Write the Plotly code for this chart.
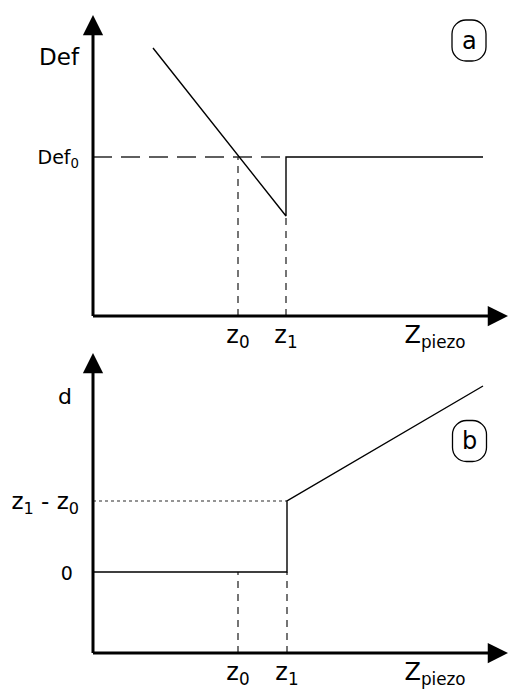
import plotly.graph_objects as go

# ── Panel (a): deflection vs piezo position ──────────────────────────────────
z0_a = 1.45
z1_a = 1.93
def0 = 1.59
def_x = [0.60, 1.93, 1.93, 3.90]
def_y = [2.68, 1.00, 1.59, 1.59]
def_label_y = 2.58

# ── Panel (b): indentation vs piezo position ─────────────────────────────────
z0_b = 1.45
z1_b = 1.94
d_zero = 0.81
d_step = 1.52
d_x = [0.00, 1.94, 1.94, 3.90]
d_y = [0.81, 0.81, 1.52, 2.67]
d_label_y = 2.57

zpiezo_x = 3.42
x_end = 4.15
ya_end = 3.01
yb_end = 3.00

NB = "\u00a0"
x_ticktext = ["z<sub>0</sub>", "z<sub>1</sub>",
              "Z<sub>piezo</sub>"]
ya_ticktext = ["Def<sub>0</sub>", "<span style='font-size:23px'>Def</span>"]
yb_ticktext = [f"<span style='font-size:19px'>0{NB}</span>",
               "z<sub>1</sub> - z<sub>0</sub>",
               f"<span style='font-size:22px'>d{NB}</span>"]

FONT = "DejaVu Sans, Verdana, sans-serif"
INK = "#000000"
DASH = "#2b2b2b"

fig = go.Figure()


def seg(x, y, xa, ya, color=INK, width=1.4, dash="solid"):
    fig.add_trace(go.Scatter(
        x=x, y=y, xaxis=xa, yaxis=ya, mode="lines",
        line=dict(color=color, width=width, dash=dash),
        hoverinfo="skip", showlegend=False,
    ))


# panel a
seg([0, def_x[2]], [def0, def0], "x", "y", DASH, 1.3, "19px,9px")
seg([z0_a, z0_a], [0, def0], "x", "y", DASH, 1.3, "7px,6px")
seg([z1_a, z1_a], [0, def_y[1]], "x", "y", DASH, 1.3, "7px,6px")
seg(def_x, def_y, "x", "y")

# panel b
seg([0, d_x[2]], [d_step, d_step], "x2", "y2", DASH, 1.2, "3px,3px")
seg([z0_b, z0_b], [0, d_zero], "x2", "y2", DASH, 1.3, "7px,6px")
seg([z1_b, z1_b], [0, d_zero], "x2", "y2", DASH, 1.3, "7px,6px")
seg(d_x, d_y, "x2", "y2")

# axes with arrow heads
annotations = []
for xr, yr, ytop in (("x", "y", ya_end), ("x2", "y2", yb_end)):
    for (tx, ty, ax, ay) in ((x_end, 0, -0.015, 0), (0, ytop, 0, -0.015)):
        annotations.append(dict(
            x=tx, y=ty, ax=ax, ay=ay, xref=xr, yref=yr, axref=xr, ayref=yr,
            text="", showarrow=True, arrowhead=2, arrowsize=1.35,
            arrowwidth=3, arrowcolor=INK,
        ))

# rounded label boxes
shapes = []
for xr, yr, cx, cy, letter in (("x", "y", 3.76, 2.755, "a"),
                               ("x2", "y2", 3.765, 2.12, "b")):
    w, h, r = 0.34, 0.41, 0.14
    k = r * 0.552
    x0, x1, y0, y1 = cx - w / 2, cx + w / 2, cy - h / 2, cy + h / 2
    path = (f"M{x0 + r},{y0} L{x1 - r},{y0} "
            f"C{x1 - r + k},{y0} {x1},{y0 + r - k} {x1},{y0 + r} "
            f"L{x1},{y1 - r} "
            f"C{x1},{y1 - r + k} {x1 - r + k},{y1} {x1 - r},{y1} "
            f"L{x0 + r},{y1} "
            f"C{x0 + r - k},{y1} {x0},{y1 - r + k} {x0},{y1 - r} "
            f"L{x0},{y0 + r} "
            f"C{x0},{y0 + r - k} {x0 + r - k},{y0} {x0 + r},{y0} Z")
    shapes.append(dict(type="path", path=path, xref=xr, yref=yr,
                       line=dict(color=INK, width=1.3)))
    annotations.append(dict(x=cx, y=cy, xref=xr, yref=yr, text=letter,
                            showarrow=False,
                            font=dict(size=24, color=INK, family=FONT)))

xaxis_style = dict(
    range=[0, x_end], showgrid=False, zeroline=False, showline=False,
    ticks="", tickvals=[z0_a, z1_a, zpiezo_x], ticktext=x_ticktext,
    tickfont=dict(size=24, color=INK, family=FONT), ticklabelstandoff=2,
    fixedrange=True, automargin=False,
)
yaxis_style = dict(
    showgrid=False, zeroline=False, showline=False, ticks="",
    ticklabelstandoff=13, fixedrange=True, automargin=False,
)

fig.update_layout(
    width=508, height=693,
    margin=dict(l=93, r=0, t=15, b=40),
    paper_bgcolor="white", plot_bgcolor="white",
    font=dict(family=FONT, color=INK),
    showlegend=False,
    xaxis=dict(xaxis_style, anchor="y"),
    yaxis=dict(yaxis_style, range=[0, ya_end], domain=[0.5282, 1],
               tickvals=[def0, def_label_y], ticktext=ya_ticktext,
               tickfont=dict(size=19, color=INK, family=FONT), anchor="x"),
    xaxis2=dict(xaxis_style, anchor="y2",
                tickvals=[z0_b, z1_b, zpiezo_x]),
    yaxis2=dict(yaxis_style, range=[0, yb_end], domain=[0, 0.4702],
                tickvals=[d_zero, d_step, d_label_y], ticktext=yb_ticktext,
                tickfont=dict(size=23, color=INK, family=FONT), anchor="x2"),
    annotations=annotations,
    shapes=shapes,
)

# the page's default body margin would push the figure 8px off the window
fig.write_html("out.html", config={"displayModeBar": False},
               post_script="document.body.style.margin='0';")
